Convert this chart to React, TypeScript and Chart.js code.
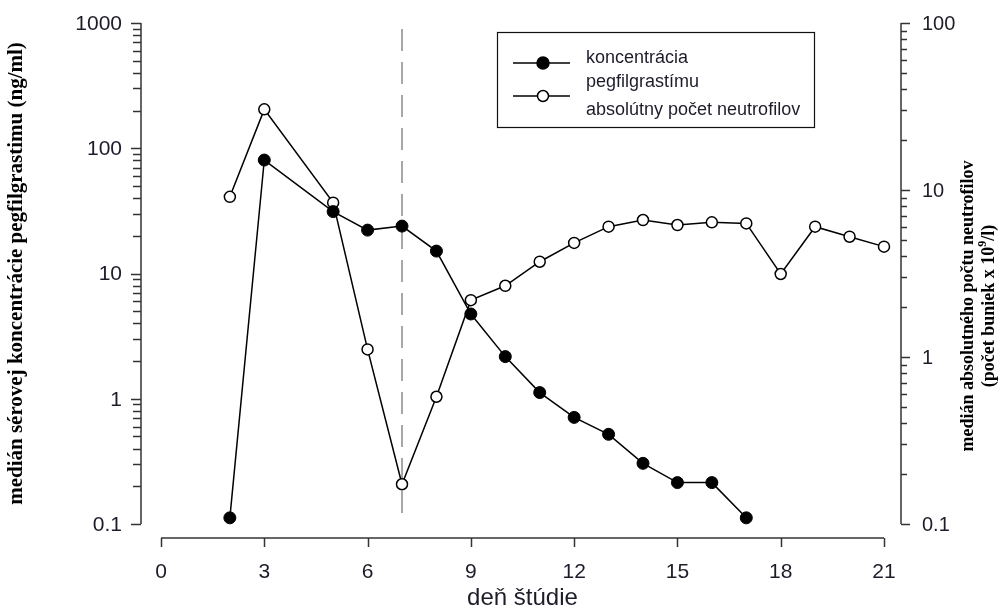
import { useEffect, useRef } from 'react';
import { Chart, registerables } from 'chart.js';

Chart.register(...registerables);

// ---- data ----
const concDays = [2, 3, 5, 6, 7, 8, 9, 10, 11, 12, 13, 14, 15, 16, 17];
const concentration = [0.112, 80.5, 31.2, 22.2, 23.9, 15.1, 4.75, 2.17, 1.12, 0.71, 0.52, 0.305, 0.214, 0.214, 0.112];
const ancDays = [2, 3, 5, 6, 7, 8, 9, 10, 11, 12, 13, 14, 15, 16, 17, 18, 19, 20, 21];
const anc = [9.1, 30.4, 8.4, 1.11, 0.173, 0.578, 2.19, 2.67, 3.72, 4.82, 6.03, 6.61, 6.17, 6.4, 6.31, 3.14, 6.03, 5.25, 4.58];
const xTicks = [0, 3, 6, 9, 12, 15, 18, 21];
const leftTicks = [0.1, 1, 10, 100, 1000];
const rightTicks = [0.1, 1, 10, 100];
const markerDay = 7;
const legendConc = ['koncentrácia', 'pegfilgrastímu'];
const legendAnc = 'absolútny počet neutrofilov';
const xTitle = 'deň štúdie';
const leftTitle = 'medián sérovej koncentrácie pegfilgrastimu (ng/ml)';
const rightTitle1 = 'medián absolutného počtu neutrofilov';
const rightTitle2a = '(počet buniek x 10';
const rightTitle2sup = '9';
const rightTitle2b = '/l)';

const SANS = "Arial, 'Liberation Sans', sans-serif";
const SERIF = "'Times New Roman', 'Liberation Serif', serif";
const AXIS = '#333333';
const TEXT = '#1d1d2a';

function minorValues(min: number, max: number): number[] {
  const out: number[] = [];
  for (let e = Math.round(Math.log10(min)); e < Math.round(Math.log10(max)); e++) {
    for (let m = 1; m <= 9; m++) out.push(m * Math.pow(10, e));
  }
  out.push(max);
  return out;
}

const customPlugin = {
  id: 'customAxes',
  beforeDatasetsDraw(chart: any) {
    const { ctx, chartArea } = chart;
    const xs = chart.scales.x;
    const yl = chart.scales.yL;
    const px = xs.getPixelForValue(markerDay);
    ctx.save();
    ctx.strokeStyle = '#8c8c8c';
    ctx.lineWidth = 1.5;
    ctx.setLineDash([22, 11]);
    ctx.beginPath();
    ctx.moveTo(px, chartArea.top + 6);
    ctx.lineTo(px, yl.getPixelForValue(0.1));
    ctx.stroke();
    ctx.restore();
  },
  afterDraw(chart: any) {
    const { ctx, chartArea } = chart;
    const xs = chart.scales.x;
    const yl = chart.scales.yL;
    const yr = chart.scales.yR;
    ctx.save();
    ctx.strokeStyle = AXIS;
    ctx.lineWidth = 1.5;
    ctx.setLineDash([]);

    // left axis
    const lx = chartArea.left - 20;
    ctx.beginPath();
    ctx.moveTo(lx, yl.getPixelForValue(1000));
    ctx.lineTo(lx, yl.getPixelForValue(0.1));
    ctx.stroke();
    for (const v of minorValues(0.1, 1000)) {
      const y = Math.round(yl.getPixelForValue(v)) + 0.5;
      const major = leftTicks.some((t) => Math.abs(t - v) / t < 1e-6);
      ctx.beginPath();
      ctx.moveTo(lx - (major ? 10 : 8), y);
      ctx.lineTo(lx, y);
      ctx.stroke();
    }

    // right axis
    const rx = chartArea.right + 17;
    ctx.beginPath();
    ctx.moveTo(rx, yr.getPixelForValue(100));
    ctx.lineTo(rx, yr.getPixelForValue(0.1));
    ctx.stroke();
    for (const v of minorValues(0.1, 100)) {
      const y = Math.round(yr.getPixelForValue(v)) + 0.5;
      const major = rightTicks.some((t) => Math.abs(t - v) / t < 1e-6);
      ctx.beginPath();
      ctx.moveTo(rx, y);
      ctx.lineTo(rx + (major ? 9 : 6), y);
      ctx.stroke();
    }

    // x axis
    const by = chartArea.bottom + 14;
    ctx.beginPath();
    ctx.moveTo(xs.getPixelForValue(0), by);
    ctx.lineTo(xs.getPixelForValue(21), by);
    ctx.stroke();
    for (const t of xTicks) {
      const x = Math.round(xs.getPixelForValue(t)) + 0.5;
      ctx.beginPath();
      ctx.moveTo(x, by);
      ctx.lineTo(x, by + 9);
      ctx.stroke();
    }

    // tick labels
    ctx.fillStyle = TEXT;
    ctx.textBaseline = 'middle';
    ctx.font = `21px ${SANS}`;
    ctx.textAlign = 'right';
    for (const t of leftTicks) {
      ctx.fillText(String(t), lx - 19, yl.getPixelForValue(t) + 1);
    }
    ctx.font = `20px ${SANS}`;
    ctx.textAlign = 'left';
    for (const t of rightTicks) {
      ctx.fillText(String(t), rx + 21, yr.getPixelForValue(t) + 1);
    }
    ctx.font = `21px ${SANS}`;
    ctx.textAlign = 'center';
    for (const t of xTicks) {
      ctx.fillText(String(t), xs.getPixelForValue(t), by + 34);
    }

    // x title
    ctx.font = `24px ${SANS}`;
    ctx.fillText(xTitle, (xs.getPixelForValue(0) + xs.getPixelForValue(21)) / 2, by + 60);

    // left title
    ctx.save();
    ctx.translate(17, (chartArea.top + chartArea.bottom) / 2);
    ctx.rotate(-Math.PI / 2);
    ctx.font = `bold 21px ${SERIF}`;
    ctx.fillStyle = '#000';
    ctx.textAlign = 'center';
    ctx.fillText(leftTitle, 0, 0);
    ctx.restore();

    // right title
    ctx.save();
    ctx.translate(968, 306);
    ctx.rotate(-Math.PI / 2);
    ctx.fillStyle = '#000';
    ctx.font = `bold 18px ${SERIF}`;
    ctx.textAlign = 'center';
    ctx.fillText(rightTitle1, 0, 0);
    const wA = ctx.measureText(rightTitle2a).width;
    const wB = ctx.measureText(rightTitle2b).width;
    ctx.font = `bold 12px ${SERIF}`;
    const wS = ctx.measureText(rightTitle2sup).width;
    const total = wA + wS + wB;
    let sx = -total / 2;
    ctx.textAlign = 'left';
    ctx.font = `bold 18px ${SERIF}`;
    ctx.fillText(rightTitle2a, sx, 21);
    sx += wA;
    ctx.font = `bold 12px ${SERIF}`;
    ctx.fillText(rightTitle2sup, sx, 15);
    sx += wS;
    ctx.font = `bold 18px ${SERIF}`;
    ctx.fillText(rightTitle2b, sx, 21);
    ctx.restore();

    // legend
    const L = { x: 497, y: 32, w: 317, h: 95 };
    ctx.lineWidth = 1.2;
    ctx.strokeStyle = '#111';
    ctx.strokeRect(L.x + 0.5, L.y + 0.5, L.w, L.h);
    const rows = [
      { y: L.y + 31, filled: true },
      { y: L.y + 64, filled: false },
    ];
    for (const r of rows) {
      ctx.beginPath();
      ctx.lineWidth = 1.5;
      ctx.strokeStyle = '#000';
      ctx.moveTo(L.x + 16, r.y);
      ctx.lineTo(L.x + 73, r.y);
      ctx.stroke();
      ctx.beginPath();
      ctx.arc(L.x + 46, r.y, r.filled ? 6 : 5.5, 0, Math.PI * 2);
      ctx.fillStyle = r.filled ? '#000' : '#fff';
      ctx.fill();
      ctx.stroke();
    }
    ctx.fillStyle = TEXT;
    ctx.font = `18px ${SANS}`;
    ctx.textAlign = 'left';
    ctx.textBaseline = 'middle';
    ctx.fillText(legendConc[0], L.x + 89, L.y + 26);
    ctx.fillText(legendConc[1], L.x + 89, L.y + 50);
    ctx.fillText(legendAnc, L.x + 89, L.y + 78);
    ctx.restore();
  },
};

export default function App() {
  const ref = useRef<HTMLCanvasElement | null>(null);
  useEffect(() => {
    if (!ref.current) return;
    const chart = new Chart(ref.current, {
      type: 'line',
      data: {
        datasets: [
          {
            label: 'koncentrácia pegfilgrastímu',
            data: concDays.map((d, i) => ({ x: d, y: concentration[i] })),
            yAxisID: 'yL',
            borderColor: '#000',
            borderWidth: 1.5,
            pointRadius: 6,
            pointBackgroundColor: '#000',
            pointBorderColor: '#000',
            pointBorderWidth: 1,
            tension: 0,
            clip: false as any,
          },
          {
            label: 'absolútny počet neutrofilov',
            data: ancDays.map((d, i) => ({ x: d, y: anc[i] })),
            yAxisID: 'yR',
            borderColor: '#000',
            borderWidth: 1.5,
            pointRadius: 5.5,
            pointBackgroundColor: '#fff',
            pointBorderColor: '#000',
            pointBorderWidth: 1.5,
            tension: 0,
            clip: false as any,
          },
        ],
      },
      options: {
        animation: false,
        responsive: true,
        maintainAspectRatio: false,
        layout: { padding: { left: 161, right: 118, top: 23, bottom: 84 } },
        plugins: { legend: { display: false }, tooltip: { enabled: false } },
        events: [],
        scales: {
          x: { type: 'linear', min: 0, max: 21, display: false },
          yL: { type: 'logarithmic', position: 'left', min: 0.1, max: 1000, display: false },
          yR: { type: 'logarithmic', position: 'right', min: 0.1, max: 100, display: false },
        },
      },
      plugins: [customPlugin],
    });
    return () => chart.destroy();
  }, []);
  return (
    <div style={{ position: 'fixed', left: 0, top: 0, width: 1002, height: 608, background: '#fff' }}>
      <canvas ref={ref} />
    </div>
  );
}
